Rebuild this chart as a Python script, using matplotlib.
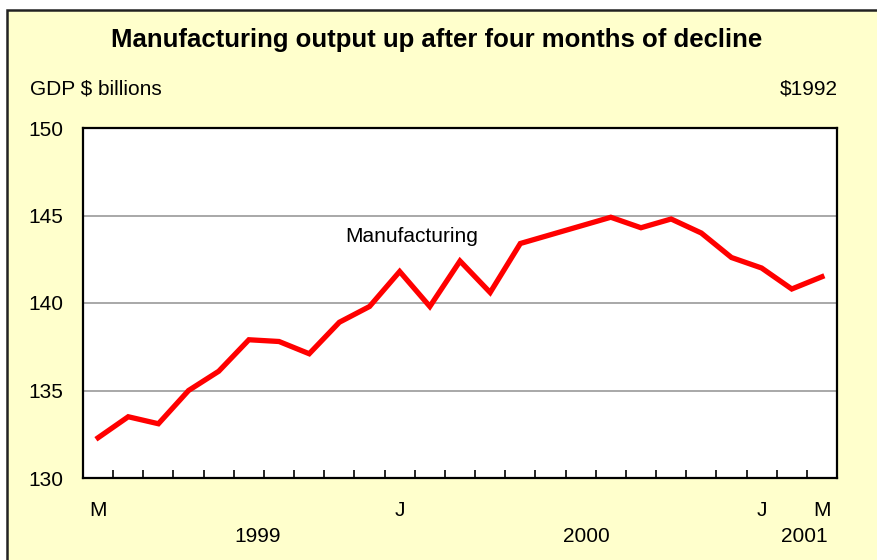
import numpy as np
import matplotlib
matplotlib.use('Agg')
import matplotlib.pyplot as plt
from matplotlib.patches import Rectangle

# monthly manufacturing output, Mar 1999 .. Mar 2001 ($1992 billions)
months = ['M', 'A', 'M', 'J', 'J', 'A', 'S', 'O', 'N', 'D',
          'J', 'F', 'M', 'A', 'M', 'J', 'J', 'A', 'S', 'O', 'N', 'D',
          'J', 'F', 'M']
output = [132.3, 133.5, 133.1, 135.0, 136.1, 137.9, 137.8, 137.1, 138.9, 139.8,
          141.8, 139.8, 142.4, 140.6, 143.4, 143.9, 144.4, 144.9, 144.3, 144.8,
          144.0, 142.6, 142.0, 140.8, 141.5]
shown_months = [0, 10, 22, 24]
years = ['1999', '2000', '2001']
year_pos = [5.3, 16.2, 23.4]
y_ticks = [130, 135, 140, 145, 150]

W, H = 878, 560
plt.rcParams['font.family'] = ['Liberation Sans', 'DejaVu Sans']
fig = plt.figure(figsize=(W / 100, H / 100), dpi=100)
fig.patch.set_facecolor('white')

# yellow panel with dark border running off the image
fig.patches.append(Rectangle((7 / W, -0.1), 1.2, 1 - 10 / H + 0.1, transform=fig.transFigure,
                             facecolor='#FFFFCC', edgecolor='#222222', lw=1.8, zorder=-5))

ax = fig.add_axes([83 / W, (H - 478) / H, (837 - 83) / W, (478 - 128) / H])
ax.set_facecolor('white')
x = np.arange(len(output))
ax.plot(x, output, color='#FF0000', lw=3.8, solid_joinstyle='miter', zorder=3)

ax.set_xlim(-0.5, len(output) - 0.5)
ax.set_ylim(130, 150)
ax.set_yticks(y_ticks)
ax.set_yticklabels([str(v) for v in y_ticks], fontsize=15)
ax.tick_params(axis='y', length=0, pad=14)
ax.yaxis.grid(True, color='#999999', lw=1.2)
ax.set_axisbelow(True)

ax.set_xticks(np.arange(0.5, len(output) - 0.5, 1.0))
ax.set_xticklabels([])
ax.tick_params(axis='x', direction='in', length=6, width=1.2, color='black')
for s in ax.spines.values():
    s.set_linewidth(1.6)
    s.set_color('black')

for i in shown_months:
    ax.text(i, -32 / 350, months[i], transform=ax.get_xaxis_transform(),
            ha='center', va='center', fontsize=15)
for lbl, p in zip(years, year_pos):
    ax.text(p, -59 / 350, lbl, transform=ax.get_xaxis_transform(),
            ha='center', va='center', fontsize=15)

ax.text(8.2, 143.8, 'Manufacturing', ha='left', va='center', fontsize=15)

fig.text(437 / W, 1 - 40 / H, 'Manufacturing output up after four months of decline',
         ha='center', va='center', fontsize=18.5, fontweight='bold')
fig.text(30 / W, 1 - 89 / H, 'GDP $ billions', ha='left', va='center', fontsize=15)
fig.text(838 / W, 1 - 89 / H, '$1992', ha='right', va='center', fontsize=15)

fig.savefig('out.png', dpi=100, facecolor=fig.get_facecolor())
